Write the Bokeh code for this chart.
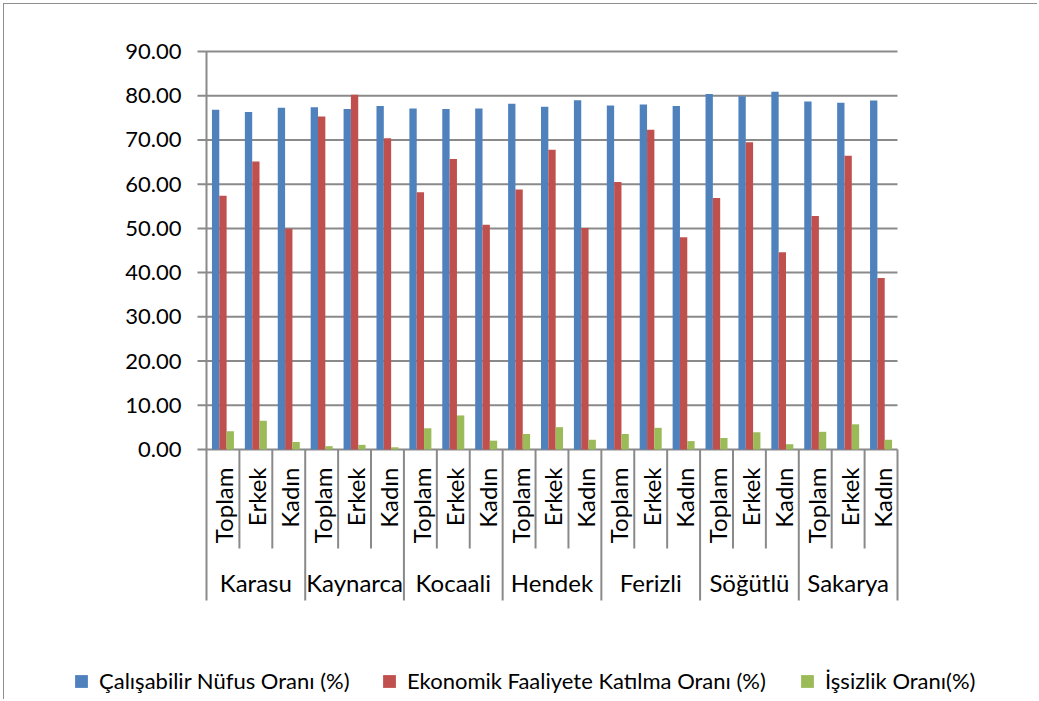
import numpy as np
from bokeh.plotting import figure
from bokeh.models import ColumnDataSource, Range1d, Legend, LegendItem
from bokeh.core.properties import value
from bokeh.embed import file_html
from bokeh.resources import INLINE

# ---------------- data ----------------
groups = ["Karasu", "Kaynarca", "Kocaali", "Hendek", "Ferizli", "Söğütlü", "Sakarya"]
subs = ["Toplam", "Erkek", "Kadın"]
calisabilir = [76.8, 76.3, 77.3, 77.4, 77.0, 77.7, 77.1, 77.0, 77.1, 78.2, 77.5, 79.0,
               77.8, 78.0, 77.7, 80.4, 79.9, 80.9, 78.7, 78.4, 78.9]
ekonomik = [57.4, 65.1, 49.9, 75.3, 80.2, 70.4, 58.2, 65.7, 50.8, 58.8, 67.8, 50.1,
            60.5, 72.3, 48.0, 56.9, 69.5, 44.6, 52.8, 66.4, 38.8]
issizlik = [4.1, 6.5, 1.7, 0.75, 1.05, 0.5, 4.8, 7.7, 2.0, 3.5, 5.05, 2.2,
            3.5, 4.9, 1.9, 2.6, 3.9, 1.2, 4.0, 5.7, 2.2]
series_names = ["Çalışabilir Nüfus Oranı (%)",
                "Ekonomik Faaliyete Katılma Oranı (%)",
                "İşsizlik Oranı(%)"]
y_ticks = [0, 10, 20, 30, 40, 50, 60, 70, 80, 90]
y_tick_labels = ["0.00", "10.00", "20.00", "30.00", "40.00", "50.00",
                 "60.00", "70.00", "80.00", "90.00"]

# ---------------- style / layout ----------------
colors = ["#4F81BD", "#C0504D", "#9BBB59"]
GRID = "#8a8a8a"
FONT = "Lato"
W, H = 1034, 696
ORG = 4                       # 3px offset + 1px border of the chart box
AXIS_X_ABS, TOP_ABS, ZERO_ABS, RIGHT_ABS = 206, 51, 449, 897
n_cat = len(groups) * len(subs)
cat_w = (RIGHT_ABS - AXIS_X_ABS) / n_cat
ppu = (ZERO_ABS - TOP_ABS) / max(y_ticks)

x_start = (ORG - AXIS_X_ABS) / cat_w
x_end = x_start + W / cat_w
y_end = (ZERO_ABS - ORG) / ppu
y_start = y_end - H / ppu

def dx(px):          # horizontal pixel offset from the value axis -> data units
    return px / cat_w

def dy(px_below_zero):
    return -px_below_zero / ppu

p = figure(width=W, height=H, output_backend="svg", toolbar_location=None, title=None,
           x_range=Range1d(x_start, x_end), y_range=Range1d(y_start, y_end),
           x_axis_location=None, y_axis_location=None,
           min_border_left=0, min_border_right=0, min_border_top=0, min_border_bottom=0,
           outline_line_color=None, background_fill_color="white", border_fill_color="white")
p.styles = {"margin-left": "3px", "margin-top": "3px",
            "border-left": "1px solid #8f8f8f", "border-top": "1px solid #8f8f8f"}
p.xgrid.visible = False
p.ygrid.visible = False

nt = len(y_ticks)
# gridlines incl. outer tick marks
p.segment(x0=[dx(-9)] * nt, x1=[n_cat] * nt, y0=y_ticks, y1=y_ticks,
          line_color=GRID, line_width=2)
# value-axis line
p.segment(x0=[0], x1=[0], y0=[0], y1=[max(y_ticks)], line_color=GRID, line_width=2)
# value-axis labels
p.text(x=[dx(-25)] * nt, y=y_ticks, text=y_tick_labels, text_align="right",
       text_baseline="middle", text_font=value(FONT), text_font_size="22px",
       text_color="black")

# bars
idx = np.arange(n_cat) + 0.5
bw = 0.2228
src = ColumnDataSource(dict(x=idx, a=calisabilir, b=ekonomik, c=issizlik))
rs = []
for k, (col, off) in enumerate(zip(["a", "b", "c"], [-bw, 0.0, bw])):
    r = p.vbar(x=idx + off, top=src.data[col], width=bw, bottom=0,
               fill_color=colors[k], line_color=None)
    rs.append(r)

# category separators
sub_x = [i for i in range(1, n_cat) if i % len(subs) != 0]
grp_x = list(range(0, n_cat + 1, len(subs)))
p.segment(x0=sub_x, x1=sub_x, y0=[0] * len(sub_x), y1=[dy(99)] * len(sub_x),
          line_color=GRID, line_width=2)
p.segment(x0=grp_x, x1=grp_x, y0=[0] * len(grp_x), y1=[dy(151)] * len(grp_x),
          line_color=GRID, line_width=2)

# sub labels (rotated)
sub_labels = [s for g in groups for s in subs]
p.text(x=idx + 0.03, y=[dy(18)] * n_cat, text=sub_labels, angle=np.pi / 2,
       text_align="right", text_baseline="middle", text_font=value(FONT),
       text_font_size="24px", text_color="black")
# group labels
gx = np.arange(len(groups)) * len(subs) + len(subs) / 2
p.text(x=gx, y=[dy(133)] * len(groups), text=groups, text_align="center",
       text_baseline="middle", text_font=value(FONT), text_font_size="24px",
       text_color="black")

# legends (one per series, placed like the reference)
leg_x_abs = [75, 383, 801]
for r, name, lx in zip(rs, series_names, leg_x_abs):
    leg = Legend(items=[LegendItem(label=value(name), renderers=[r])],
                 location=(lx - ORG - 2, 6),
                 orientation="horizontal", padding=0, margin=0, spacing=0,
                 border_line_color=None, background_fill_alpha=0,
                 glyph_width=16, glyph_height=16, label_height=16, label_standoff=10,
                 label_text_font=FONT, label_text_font_size="22px",
                 label_text_color="black")
    p.add_layout(leg)

open("out.html", "w").write(file_html(p, INLINE))
